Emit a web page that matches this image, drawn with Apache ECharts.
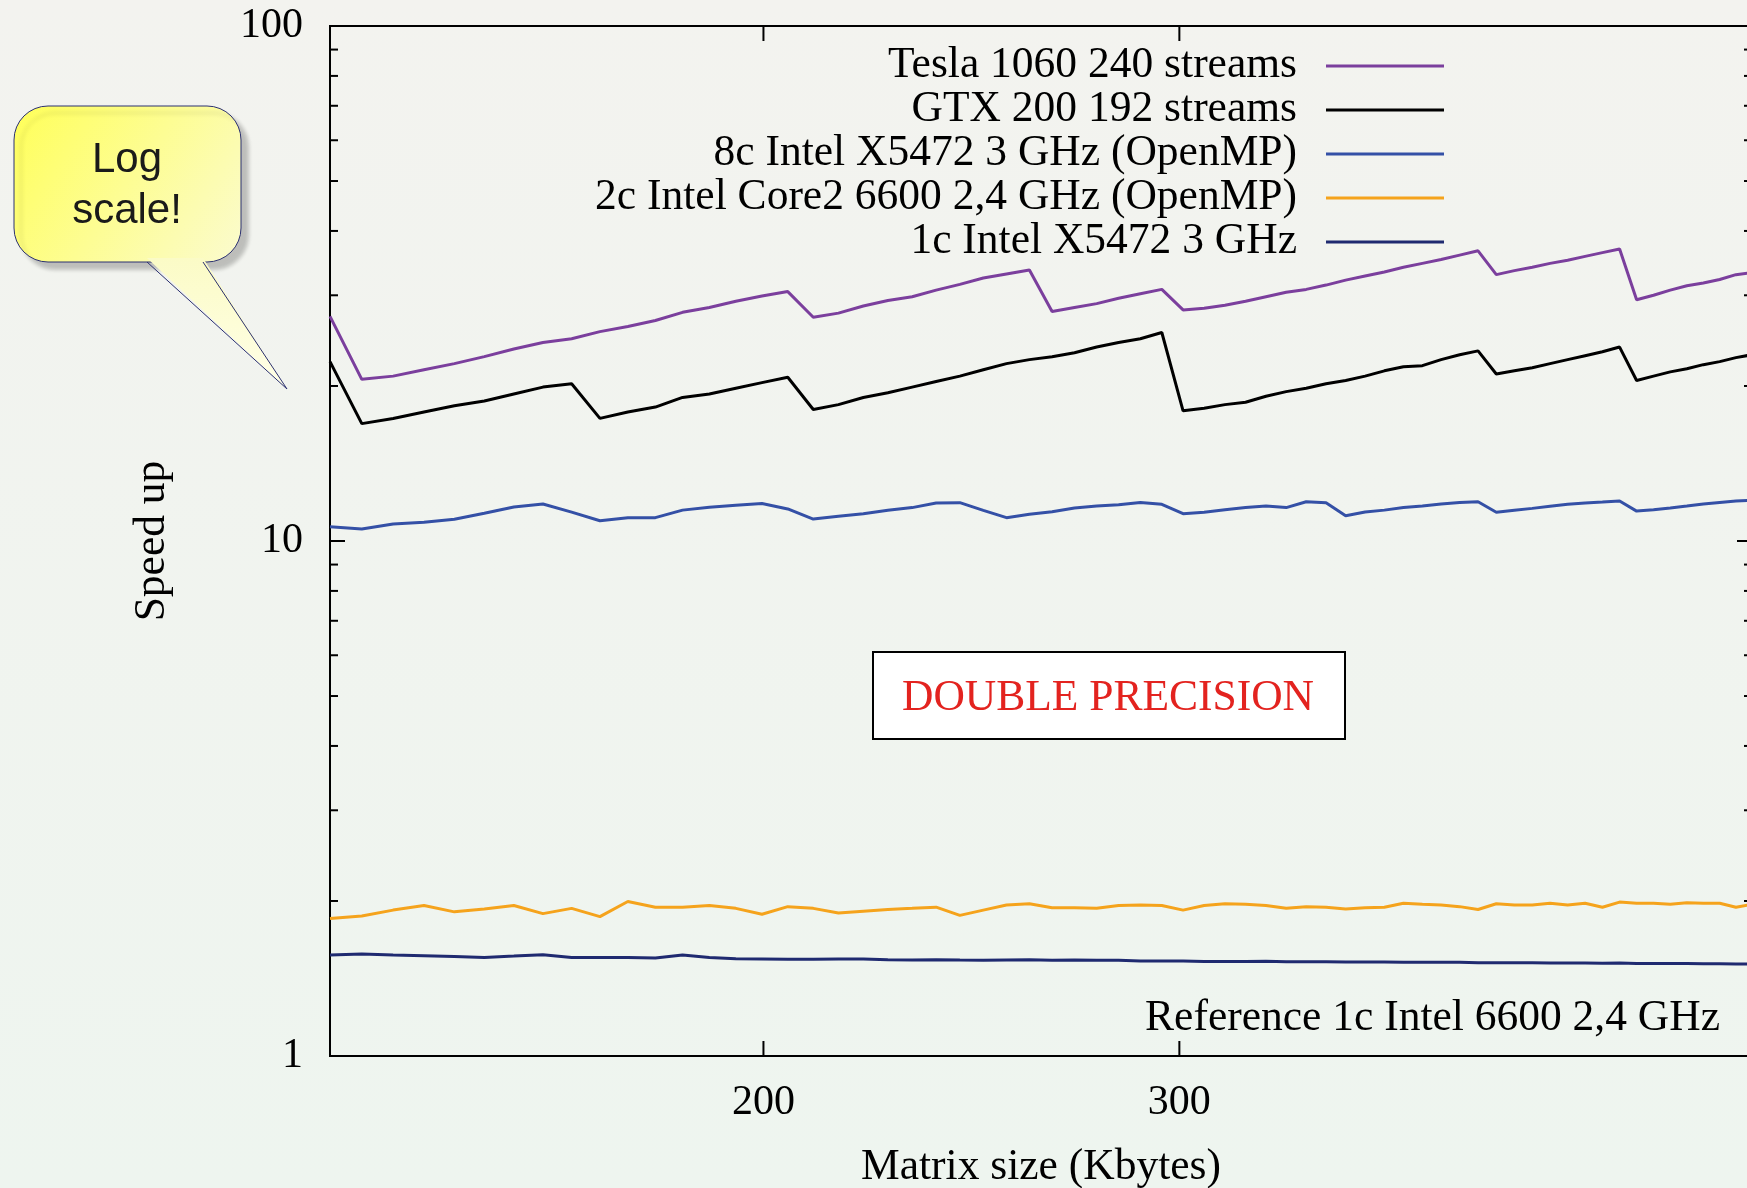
<!DOCTYPE html>
<html>
<head>
<meta charset="utf-8">
<title>Speed up - double precision</title>
<script src="https://cdn.jsdelivr.net/npm/echarts@6/dist/echarts.min.js"></script>
<style>
  html, body { margin: 0; padding: 0; }
  body { background: linear-gradient(#f3f3ef, #eef5ef); }
  #main { width: 1747px; height: 1188px; }
</style>
</head>
<body>
<div id="main"></div>
<script>
// matrix size in Kbytes (square matrices of doubles, n = 128 .. 256 step 2)
var matrixKB = [
  131.072, 135.2, 139.392, 143.648, 147.968, 152.352, 156.8, 161.312, 165.888, 170.528,
  175.232, 180.0, 184.832, 189.728, 194.688, 199.712, 204.8, 209.952, 215.168, 220.448,
  225.792, 231.2, 236.672, 242.208, 247.808, 253.472, 259.2, 264.992, 270.848, 276.768,
  282.752, 288.8, 294.912, 301.088, 307.328, 313.632, 320.0, 326.432, 332.928, 339.488,
  346.112, 352.8, 359.552, 366.368, 373.248, 380.192, 387.2, 394.272, 401.408, 408.608,
  415.872, 423.2, 430.592, 438.048, 445.568, 453.152, 460.8, 468.512, 476.288, 484.128,
  492.032, 500.0, 508.032, 516.128, 524.288
];

var tesla = [
  27.3, 20.6, 20.9, 21.5, 22.1, 22.8, 23.6, 24.3, 24.7, 25.5,
  26.1, 26.8, 27.8, 28.4, 29.2, 29.9, 30.5, 27.2, 27.7, 28.6,
  29.3, 29.8, 30.7, 31.5, 32.4, 33.0, 33.6, 27.9, 28.4, 28.9,
  29.6, 30.2, 30.8, 28.1, 28.3, 28.7, 29.2, 29.8, 30.4, 30.8,
  31.4, 32.1, 32.7, 33.3, 34.0, 34.6, 35.2, 35.9, 36.6, 32.9,
  33.5, 34.0, 34.6, 35.1, 35.7, 36.3, 36.9, 29.4, 30.0, 30.7,
  31.3, 31.7, 32.2, 32.9, 33.2
];

var gtx = [
  22.3, 16.9, 17.3, 17.8, 18.3, 18.7, 19.3, 19.9, 20.2, 17.3,
  17.8, 18.2, 19.0, 19.3, 19.8, 20.3, 20.8, 18.0, 18.4, 19.0,
  19.4, 19.9, 20.4, 20.9, 21.5, 22.1, 22.5, 22.8, 23.2, 23.8,
  24.3, 24.7, 25.4, 17.9, 18.1, 18.4, 18.6, 19.1, 19.5, 19.8,
  20.2, 20.5, 20.9, 21.4, 21.8, 21.9, 22.5, 23.0, 23.4, 21.1,
  21.4, 21.7, 22.1, 22.5, 22.9, 23.3, 23.8, 20.5, 20.9, 21.3,
  21.6, 22.0, 22.3, 22.7, 23.0
];

var intel8c = [
  10.66, 10.55, 10.79, 10.87, 11.02, 11.32, 11.64, 11.80, 11.38, 10.95,
  11.10, 11.10, 11.48, 11.63, 11.73, 11.83, 11.54, 11.03, 11.17, 11.30,
  11.47, 11.61, 11.85, 11.87, 11.47, 11.10, 11.27, 11.40, 11.59, 11.69,
  11.76, 11.88, 11.78, 11.30, 11.37, 11.50, 11.61, 11.69, 11.61, 11.92,
  11.87, 11.20, 11.38, 11.48, 11.61, 11.69, 11.80, 11.88, 11.92, 11.37,
  11.47, 11.57, 11.68, 11.78, 11.85, 11.90, 11.96, 11.43, 11.50, 11.59,
  11.69, 11.80, 11.88, 11.96, 11.99
];

var core2 = [
  1.85, 1.87, 1.92, 1.96, 1.905, 1.93, 1.96, 1.89, 1.935, 1.865,
  1.995, 1.945, 1.945, 1.96, 1.935, 1.885, 1.95, 1.935, 1.895, 1.91,
  1.925, 1.935, 1.945, 1.875, 1.92, 1.965, 1.975, 1.94, 1.94, 1.935,
  1.96, 1.965, 1.96, 1.92, 1.96, 1.975, 1.97, 1.96, 1.935, 1.95,
  1.945, 1.93, 1.94, 1.945, 1.98, 1.97, 1.965, 1.95, 1.925, 1.975,
  1.965, 1.965, 1.98, 1.965, 1.98, 1.945, 1.99, 1.98, 1.98, 1.97,
  1.985, 1.98, 1.98, 1.945, 1.97
];

var intel1c = [
  1.571, 1.578, 1.571, 1.566, 1.561, 1.554, 1.563, 1.573, 1.554, 1.554,
  1.554, 1.550, 1.571, 1.554, 1.545, 1.543, 1.541, 1.541, 1.543, 1.543,
  1.537, 1.536, 1.538, 1.536, 1.535, 1.536, 1.537, 1.535, 1.536, 1.535,
  1.534, 1.529, 1.529, 1.529, 1.526, 1.526, 1.526, 1.527, 1.524, 1.524,
  1.524, 1.522, 1.522, 1.522, 1.521, 1.520, 1.520, 1.520, 1.517, 1.517,
  1.517, 1.517, 1.515, 1.515, 1.515, 1.514, 1.515, 1.513, 1.513, 1.513,
  1.512, 1.511, 1.511, 1.509, 1.509
];

var seriesNames = [
  'Tesla 1060 240 streams',
  'GTX 200 192 streams',
  '8c Intel X5472 3 GHz (OpenMP)',
  '2c Intel Core2 6600 2,4 GHz (OpenMP)',
  '1c Intel X5472 3 GHz'
];
var seriesColors = ['#7b3f9d', '#000000', '#3450a6', '#f5a31c', '#1f2a70'];
var seriesValues = [tesla, gtx, intel8c, core2, intel1c];

var xTicks = [200, 300];
var yMinorTicks = [2, 3, 4, 5, 6, 7, 8, 9, 20, 30, 40, 50, 60, 70, 80, 90];
var xMin = 131.072, xMax = 524.288, yMin = 1, yMax = 100;

var serif = 'Liberation Serif';

function pairs(vals) {
  var out = [];
  for (var i = 0; i < vals.length; i++) {
    out.push([matrixKB[i], vals[i]]);
  }
  return out;
}

var chart = echarts.init(document.getElementById('main'));

var series = [];
for (var s = 0; s < seriesNames.length; s++) {
  series.push({
    name: seriesNames[s],
    type: 'line',
    symbol: 'none',
    data: pairs(seriesValues[s]),
    itemStyle: { color: seriesColors[s] },
    lineStyle: { color: seriesColors[s], width: 3 },
    z: 10 - s
  });
}

// minor ticks of the log y axis, left and right border
series.push({
  type: 'custom',
  silent: true,
  clip: false,
  data: yMinorTicks.map(function (v) { return [xMin, v]; }),
  renderItem: function (params, api) {
    var l = api.coord([xMin, api.value(1)]);
    var r = api.coord([xMax, api.value(1)]);
    return {
      type: 'group',
      children: [
        { type: 'line', shape: { x1: l[0], y1: l[1], x2: l[0] + 8, y2: l[1] }, style: { stroke: '#000', lineWidth: 2 } },
        { type: 'line', shape: { x1: r[0], y1: r[1], x2: r[0] - 8, y2: r[1] }, style: { stroke: '#000', lineWidth: 2 } }
      ]
    };
  }
});

// x ticks at 200 and 300, bottom and top, with labels
series.push({
  type: 'custom',
  silent: true,
  clip: false,
  data: xTicks.map(function (v) { return [v, yMin]; }),
  renderItem: function (params, api) {
    var v = api.value(0);
    var b = api.coord([v, yMin]);
    var t = api.coord([v, yMax]);
    return {
      type: 'group',
      children: [
        { type: 'line', shape: { x1: b[0], y1: b[1], x2: b[0], y2: b[1] - 15 }, style: { stroke: '#000', lineWidth: 2 } },
        { type: 'line', shape: { x1: t[0], y1: t[1], x2: t[0], y2: t[1] + 15 }, style: { stroke: '#000', lineWidth: 2 } },
        { type: 'text', x: b[0], y: b[1] + 47, style: { text: String(v), fill: '#000', fontSize: 42, fontFamily: serif, align: 'center', verticalAlign: 'middle' } }
      ]
    };
  }
});

var option = {
  animation: false,
  backgroundColor: 'transparent',
  textStyle: { fontFamily: serif },
  grid: {
    left: 330, right: -5, top: 26, bottom: 132,
    show: true, borderColor: '#000', borderWidth: 2, backgroundColor: 'transparent',
    containLabel: false, outerBoundsMode: 'none'
  },
  legend: {
    data: seriesNames,
    orient: 'vertical',
    align: 'right',
    right: 303,
    top: 44,
    padding: 0,
    itemGap: 0,
    itemWidth: 118,
    itemHeight: 3,
    icon: 'rect',
    selectedMode: false,
    textStyle: { fontSize: 43.5, lineHeight: 43.5, color: '#000', fontFamily: serif, padding: [0, 24, 0, 0] }
  },
  xAxis: [{
    type: 'log', logBase: 10, min: xMin, max: xMax,
    name: 'Matrix size (Kbytes)', nameLocation: 'middle', nameGap: 90,
    nameTextStyle: { fontSize: 43.5, color: '#000', fontFamily: serif },
    axisLine: { show: false }, axisTick: { show: false }, axisLabel: { show: false },
    splitLine: { show: false }
  }],
  yAxis: [{
    type: 'log', logBase: 10, min: yMin, max: yMax,
    name: 'Speed up', nameLocation: 'middle', nameGap: 155, nameRotate: 90,
    nameTextStyle: { fontSize: 43.5, color: '#000', fontFamily: serif },
    axisLine: { show: false },
    axisTick: { show: true, inside: true, length: 15, lineStyle: { color: '#000', width: 2 } },
    axisLabel: { fontSize: 42, color: '#000', margin: 27, fontFamily: serif, padding: [4, 0, 0, 0] },
    splitLine: { show: false }
  }, {
    type: 'log', logBase: 10, min: yMin, max: yMax, position: 'right',
    axisLine: { show: false },
    axisTick: { show: true, inside: true, length: 15, lineStyle: { color: '#000', width: 2 } },
    axisLabel: { show: false },
    splitLine: { show: false }
  }],
  graphic: [
    // "Log scale!" callout
    {
      type: 'rect',
      shape: { x: 14, y: 106, width: 227, height: 156, r: 34 },
      style: {
        fill: { type: 'linear', x: 0, y: 0, x2: 1, y2: 1, colorStops: [
          { offset: 0, color: '#ffff58' }, { offset: 1, color: '#fbfbcf' }] },
        stroke: '#2b3070', lineWidth: 1,
        shadowColor: 'rgba(0,0,0,0.22)', shadowBlur: 4, shadowOffsetX: 7, shadowOffsetY: 7
      }
    },
    {
      type: 'polygon',
      shape: { points: [[147, 258], [203, 258], [287, 389]] },
      style: {
        fill: { type: 'linear', x: 0, y: 0, x2: 0, y2: 1, colorStops: [
          { offset: 0, color: '#fbfbc6' }, { offset: 1, color: '#ffffe8' }] }
      }
    },
    {
      type: 'polyline',
      shape: { points: [[147, 262], [287, 389], [203, 262]] },
      style: { stroke: '#2b3070', lineWidth: 1, fill: null }
    },
    {
      type: 'text', x: 127, y: 186,
      style: { text: 'Log\nscale!', fill: '#1a1a1a', fontSize: 42, lineHeight: 51, fontFamily: 'Liberation Sans', align: 'center', verticalAlign: 'middle' }
    },
    // DOUBLE PRECISION box
    {
      type: 'rect',
      shape: { x: 873, y: 652, width: 472, height: 87 },
      style: { fill: '#ffffff', stroke: '#000', lineWidth: 2 }
    },
    {
      type: 'text', x: 1108, y: 699,
      style: { text: 'DOUBLE PRECISION', fill: '#e3231f', fontSize: 43.5, fontFamily: serif, align: 'center', verticalAlign: 'middle' }
    },
    {
      type: 'text', x: 1720, y: 1019,
      style: { text: 'Reference 1c Intel 6600 2,4 GHz', fill: '#000', fontSize: 43.5, fontFamily: serif, align: 'right', verticalAlign: 'middle' }
    }
  ],
  series: series
};

chart.setOption(option);
</script>
</body>
</html>
